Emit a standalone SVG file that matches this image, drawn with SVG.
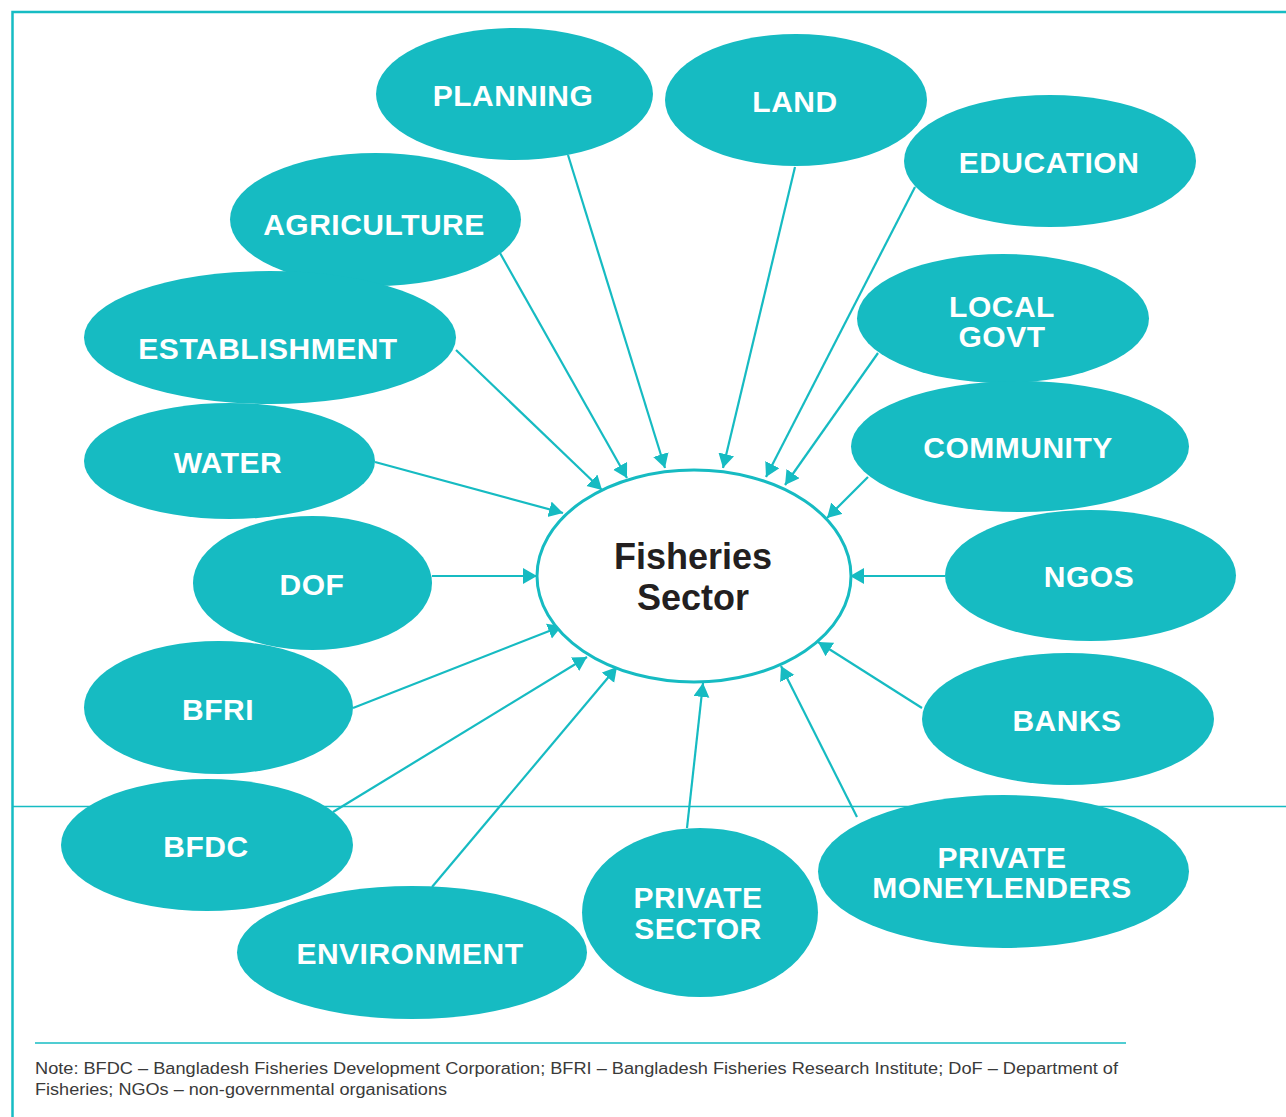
<svg xmlns="http://www.w3.org/2000/svg" width="1286" height="1117" viewBox="0 0 1286 1117">
  <style>
    .frame { stroke: #16bcc3; fill: none; }
    .node ellipse { fill: #16bbc2; }
    .node text { fill: #ffffff; font-family: "Liberation Sans", Arial, sans-serif; font-weight: bold; font-size: 30px; letter-spacing: 0.5px; text-anchor: middle; }
    .hub ellipse { fill: #ffffff; stroke: #16bbc2; stroke-width: 3; }
    .hub text { fill: #231f20; font-family: "Liberation Sans", Arial, sans-serif; font-weight: bold; font-size: 36px; text-anchor: middle; }
    #connectors line { stroke: #16bbc2; stroke-width: 2.2; marker-end: url(#arrow); }
    .note { fill: #3a3a3a; font-family: "Liberation Sans", Arial, sans-serif; font-size: 16px; }
  </style>
  <defs>
    <marker id="arrow" markerUnits="userSpaceOnUse" markerWidth="15" markerHeight="17" refX="14" refY="8" orient="auto">
      <path d="M0,0 L14,8 L0,16 Z" fill="#16bbc2"/>
    </marker>
  </defs>

  <rect width="1286" height="1117" fill="#ffffff"/>

  <!-- page frame and divider -->
  <path class="frame" stroke-width="2.5" d="M12.5,1117 V12 H1286"/>
  <line class="frame" stroke-width="1.5" x1="12" y1="806.5" x2="1286" y2="806.5"/>

  <!-- connectors -->
  <g id="connectors">
    <line x1="568" y1="155" x2="665" y2="468"/>
    <line x1="795" y1="167" x2="723" y2="468"/>
    <line x1="915" y1="187" x2="766" y2="477"/>
    <line x1="500" y1="253" x2="627" y2="478"/>
    <line x1="456" y1="350" x2="602" y2="490"/>
    <line x1="878" y1="353" x2="785" y2="485"/>
    <line x1="868" y1="477" x2="827" y2="518"/>
    <line x1="375" y1="462" x2="563" y2="513"/>
    <line x1="432" y1="576" x2="537" y2="576"/>
    <line x1="945" y1="576" x2="850" y2="576"/>
    <line x1="353" y1="708" x2="562" y2="626"/>
    <line x1="922" y1="708" x2="818" y2="642"/>
    <line x1="333" y1="812" x2="587" y2="657"/>
    <line x1="432" y1="887" x2="617" y2="667"/>
    <line x1="687" y1="828" x2="703" y2="683"/>
    <line x1="857" y1="817" x2="781" y2="666"/>
  </g>

  <!-- central hub -->
  <g id="fisheries-sector" class="hub">
    <ellipse cx="694" cy="576" rx="157" ry="106"/>
    <text x="693" y="569">Fisheries</text>
    <text x="693" y="610">Sector</text>
  </g>

  <!-- surrounding nodes -->
  <g id="planning" class="node">
    <ellipse cx="514.5" cy="94" rx="138.5" ry="66"/>
    <text x="513" y="106">PLANNING</text>
  </g>
  <g id="land" class="node">
    <ellipse cx="796" cy="100" rx="131" ry="66"/>
    <text x="795" y="112">LAND</text>
  </g>
  <g id="education" class="node">
    <ellipse cx="1050" cy="161" rx="146" ry="66"/>
    <text x="1049" y="173">EDUCATION</text>
  </g>
  <g id="agriculture" class="node">
    <ellipse cx="375.5" cy="219.5" rx="145.5" ry="66.5"/>
    <text x="374" y="235">AGRICULTURE</text>
  </g>
  <g id="establishment" class="node">
    <ellipse cx="270" cy="337.5" rx="186" ry="66.5"/>
    <text x="268" y="359">ESTABLISHMENT</text>
  </g>
  <g id="local-govt" class="node">
    <ellipse cx="1003" cy="318.5" rx="146" ry="64.5"/>
    <text x="1002" y="317">LOCAL</text>
    <text x="1002" y="347">GOVT</text>
  </g>
  <g id="community" class="node">
    <ellipse cx="1020" cy="446.5" rx="169" ry="65.5"/>
    <text x="1018" y="458">COMMUNITY</text>
  </g>
  <g id="water" class="node">
    <ellipse cx="229.5" cy="461" rx="145.5" ry="58"/>
    <text x="228" y="473">WATER</text>
  </g>
  <g id="dof" class="node">
    <ellipse cx="312.5" cy="583" rx="119.5" ry="67"/>
    <text x="312" y="595">DOF</text>
  </g>
  <g id="ngos" class="node">
    <ellipse cx="1090.5" cy="575.5" rx="145.5" ry="65.5"/>
    <text x="1089" y="587">NGOS</text>
  </g>
  <g id="bfri" class="node">
    <ellipse cx="218.5" cy="707.5" rx="134.5" ry="66.5"/>
    <text x="218" y="720">BFRI</text>
  </g>
  <g id="banks" class="node">
    <ellipse cx="1068" cy="719" rx="146" ry="66"/>
    <text x="1067" y="731">BANKS</text>
  </g>
  <g id="bfdc" class="node">
    <ellipse cx="207" cy="845" rx="146" ry="66"/>
    <text x="206" y="857">BFDC</text>
  </g>
  <g id="environment" class="node">
    <ellipse cx="412" cy="952.5" rx="175" ry="66.5"/>
    <text x="410" y="964">ENVIRONMENT</text>
  </g>
  <g id="private-sector" class="node">
    <ellipse cx="700" cy="912.5" rx="118" ry="84.5"/>
    <text x="698" y="908">PRIVATE</text>
    <text x="698" y="939">SECTOR</text>
  </g>
  <g id="private-moneylenders" class="node">
    <ellipse cx="1003.5" cy="871.5" rx="185.5" ry="76.5"/>
    <text x="1002" y="868">PRIVATE</text>
    <text x="1002" y="898">MONEYLENDERS</text>
  </g>

  <!-- footnote -->
  <line class="frame" stroke-width="1.5" x1="35" y1="1043" x2="1126" y2="1043"/>
  <text class="note" x="35" y="1074" textLength="1083" lengthAdjust="spacingAndGlyphs">Note: BFDC – Bangladesh Fisheries Development Corporation; BFRI – Bangladesh Fisheries Research Institute; DoF – Department of</text>
  <text class="note" x="35" y="1095" textLength="412" lengthAdjust="spacingAndGlyphs">Fisheries; NGOs – non-governmental organisations</text>
</svg>
